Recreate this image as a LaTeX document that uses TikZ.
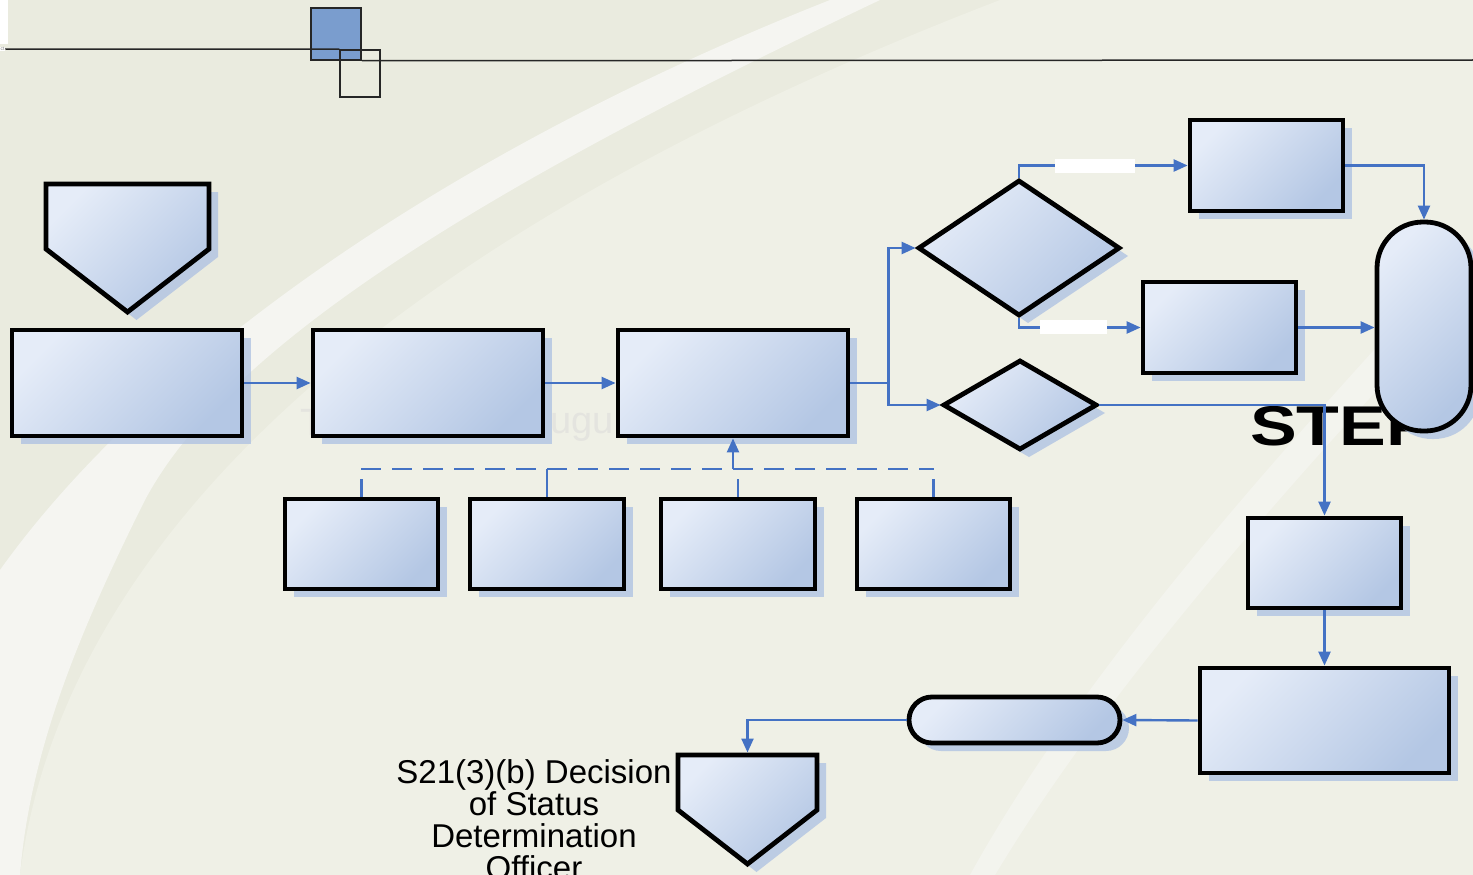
\documentclass[tikz,border=0pt]{standalone}
\usepackage{fontspec}
\setmainfont{Liberation Sans}
\usetikzlibrary{arrows.meta,shapes.geometric,shadows}

\definecolor{bgcol}{RGB}{234,235,223}
\definecolor{bglight}{RGB}{239,240,230}
\definecolor{bgwhite}{RGB}{245,245,241}
\definecolor{wmark}{RGB}{228,228,223}
\definecolor{flowblue}{RGB}{68,114,196}
\definecolor{fillhi}{RGB}{229,236,248}
\definecolor{filllo}{RGB}{180,199,228}
\definecolor{shadowblue}{RGB}{172,192,226}
\definecolor{tabblue}{RGB}{122,157,206}

\begin{document}
\begin{tikzpicture}[x=1pt, y=-1pt,
    blk/.style={draw=black, line width=4.8pt, inner sep=0pt,
        left color=fillhi, right color=filllo, shading angle=45,
        drop shadow={shadow xshift=9pt, shadow yshift=-8pt, fill=shadowblue, opacity=.75}},
    procbox/.style={blk, rectangle},
    decision/.style={blk, diamond},
    flow/.style={draw=flowblue, line width=2.4pt},
    arr/.style={flow, -{Triangle[length=14pt, width=12pt]}},
    lbl/.style={fill=white, inner sep=0pt, minimum height=14pt}]
\useasboundingbox (0,0) rectangle (1473,875);

% background
\fill[bgcol] (0,0) rectangle (1473,875);
\fill[bglight] (20,875) .. controls (60,560) and (350,250) .. (1000,0) -- (1473,0) -- (1473,875) -- cycle;
\fill[bgwhite] (0,570) .. controls (150,360) and (450,150) .. (830,0) -- (880,0)
    .. controls (500,180) and (230,340) .. (145,500) .. controls (80,630) and (30,750) .. (20,875)
    -- (0,875) -- cycle;
\fill[bgwhite, opacity=.8] (1460,255) .. controls (1330,400) and (1100,640) .. (970,875) -- (995,875)
    .. controls (1130,650) and (1360,410) .. (1473,285) -- (1473,255) -- cycle;

% header
\fill[white] (0,0) rectangle (8,44);
\node[fill=white, inner sep=.5pt, anchor=west, text=gray, font=\fontsize{5}{5}\selectfont] (tag) at (0,49) {ct};
\node[draw=black!85, line width=1.5pt, fill=tabblue, minimum width=50pt, minimum height=52pt, inner sep=0pt] (taba) at (336,34) {};
\node[draw=black!85, line width=1.5pt, minimum width=40pt, minimum height=47pt, inner sep=0pt] (tabb) at (360,73.5) {};
\coordinate (rimr) at (1473,60);
\draw[black!85, line width=1.5pt] (tag.east) -- (tabb.north west);
\draw[black!85, line width=1.5pt] (taba.south east) -- (rimr);

% faint text and labels
\node[anchor=base west, inner sep=0pt, text=wmark, font=\fontsize{38}{38}\selectfont] (wma) at (300,435) {T};
\node[anchor=base west, inner sep=0pt, text=wmark, font=\fontsize{38}{38}\selectfont] (wmb) at (550,433) {ugu};
\node[anchor=base west, inner sep=0pt, font=\bfseries\fontsize{56}{56}\selectfont] (steplbl) at (1250,445) {\scalebox{1.25}[1]{STEP}};
\node[anchor=north, align=center, inner sep=0pt, font=\fontsize{33}{32}\selectfont] (sdo) at (534,759)
    {S21(3)(b) Decision\\of Status\\Determination\\Officer};

% shapes
\path[blk] (46,184) -- (209,184) -- (209,249) -- (127.5,312) -- (46,249) -- cycle;
\path[blk] (678,755) -- (817,755) -- (817,810) -- (747.5,864) -- (678,810) -- cycle;
\coordinate (exit) at (747.5,752.5);

\node[procbox, minimum width=230pt, minimum height=106pt] (a) at (127,383) {};
\node[procbox, minimum width=230pt, minimum height=106pt] (b) at (428,383) {};
\node[procbox, minimum width=230pt, minimum height=106pt] (c) at (733,383) {};
\node[decision, minimum width=202pt, minimum height=136pt] (d1) at (1019,248) {};
\node[decision, minimum width=154pt, minimum height=90pt] (d2) at (1020,405) {};
\node[procbox, minimum width=153pt, minimum height=91pt] (e) at (1266.5,165.5) {};
\node[procbox, minimum width=153pt, minimum height=91pt] (f) at (1219.5,327.5) {};
\node[procbox, rounded corners=46pt, minimum width=94pt, minimum height=209pt] (store) at (1424,326.5) {};
\node[procbox, minimum width=153pt, minimum height=90pt] (g) at (1324.5,563) {};
\node[procbox, minimum width=249pt, minimum height=105pt] (h) at (1324.5,720.5) {};
\node[procbox, rounded corners=23pt, minimum width=211pt, minimum height=46pt] (pill) at (1014.5,720) {};
\node[procbox, minimum width=153pt, minimum height=90pt] (r1) at (361.5,544) {};
\node[procbox, minimum width=154pt, minimum height=90pt] (r2) at (547,544) {};
\node[procbox, minimum width=154pt, minimum height=90pt] (r3) at (738,544) {};
\node[procbox, minimum width=153pt, minimum height=90pt] (r4) at (933.5,544) {};

% connectors
\draw[arr] (a.east) -- (b.west);
\draw[arr] (b.east) -- (c.west);
\draw[arr] (c.east) -- ++(38,0) |- (d1.west);
\draw[arr] (c.east) -- ++(38,0) |- (d2.west);
\draw[arr] (d1.north) |- (e.west);
\draw[arr] (d1.south) |- (f.west);
\draw[arr] (e.east) -| (store.north);
\draw[arr] (f.east) -- (f.east -| store.west);
\draw[arr] (d2.east) -| (g.north);
\draw[arr] (g.south) -- (h.north);
\draw[arr] (h.west) -- (pill.east);
\draw[arr] (pill.west) -| (exit);

\coordinate (busl) at (361,469);
\coordinate (busr) at (934,469);
\draw[flow, dash pattern=on 20pt off 11pt] (busl) -- (busr);
\draw[flow] (r1.north) -- ++(0,-18);
\draw[flow] (r2.north) -- (r2.north |- busl);
\draw[flow] (r3.north) -- ++(0,-18);
\draw[flow] (r4.north) -- ++(0,-18);
\draw[arr] (c.south |- busl) -- (c.south);

\node[lbl, minimum width=80pt] (yes) at (1095,166) {};
\node[lbl, minimum width=67pt] (no) at (1073.5,327) {};
\end{tikzpicture}
\end{document}
